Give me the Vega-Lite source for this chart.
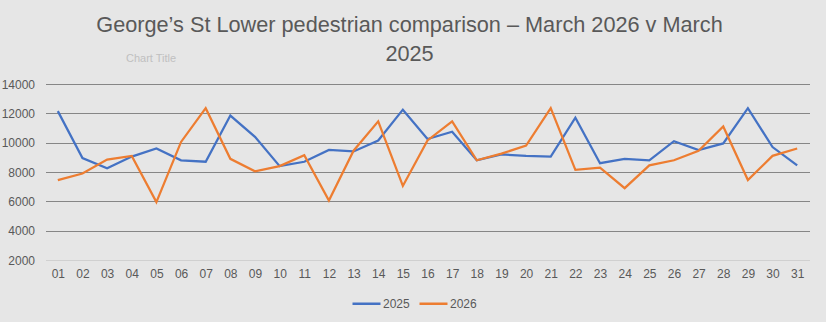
{
  "$schema": "https://vega.github.io/schema/vega-lite/v6.json",
  "width": 764,
  "height": 176,
  "autosize": {"type": "none"},
  "padding": {"left": 45.5, "top": 84, "right": 16.5, "bottom": 62},
  "background": "#e6e6e6",
  "title": {
    "text": ["George’s St Lower pedestrian comparison – March 2026 v March", "2025"],
    "font": "Liberation Sans",
    "fontSize": 21.7,
    "fontWeight": "normal",
    "color": "#595959",
    "lineHeight": 29,
    "anchor": "middle",
    "frame": "group",
    "dx": -18,
    "offset": -14
  },
  "data": {
    "values": [
      {"day": "01", "year": "2025", "count": 12150}, {"day": "01", "year": "2026", "count": 7450},
      {"day": "02", "year": "2025", "count": 8950}, {"day": "02", "year": "2026", "count": 7900},
      {"day": "03", "year": "2025", "count": 8250}, {"day": "03", "year": "2026", "count": 8850},
      {"day": "04", "year": "2025", "count": 9050}, {"day": "04", "year": "2026", "count": 9100},
      {"day": "05", "year": "2025", "count": 9600}, {"day": "05", "year": "2026", "count": 5950},
      {"day": "06", "year": "2025", "count": 8800}, {"day": "06", "year": "2026", "count": 10050},
      {"day": "07", "year": "2025", "count": 8700}, {"day": "07", "year": "2026", "count": 12350},
      {"day": "08", "year": "2025", "count": 11850}, {"day": "08", "year": "2026", "count": 8900},
      {"day": "09", "year": "2025", "count": 10400}, {"day": "09", "year": "2026", "count": 8050},
      {"day": "10", "year": "2025", "count": 8400}, {"day": "10", "year": "2026", "count": 8400},
      {"day": "11", "year": "2025", "count": 8700}, {"day": "11", "year": "2026", "count": 9150},
      {"day": "12", "year": "2025", "count": 9500}, {"day": "12", "year": "2026", "count": 6050},
      {"day": "13", "year": "2025", "count": 9400}, {"day": "13", "year": "2026", "count": 9450},
      {"day": "14", "year": "2025", "count": 10150}, {"day": "14", "year": "2026", "count": 11450},
      {"day": "15", "year": "2025", "count": 12250}, {"day": "15", "year": "2026", "count": 7050},
      {"day": "16", "year": "2025", "count": 10250}, {"day": "16", "year": "2026", "count": 10150},
      {"day": "17", "year": "2025", "count": 10750}, {"day": "17", "year": "2026", "count": 11450},
      {"day": "18", "year": "2025", "count": 8800}, {"day": "18", "year": "2026", "count": 8800},
      {"day": "19", "year": "2025", "count": 9200}, {"day": "19", "year": "2026", "count": 9250},
      {"day": "20", "year": "2025", "count": 9100}, {"day": "20", "year": "2026", "count": 9800},
      {"day": "21", "year": "2025", "count": 9050}, {"day": "21", "year": "2026", "count": 12350},
      {"day": "22", "year": "2025", "count": 11700}, {"day": "22", "year": "2026", "count": 8150},
      {"day": "23", "year": "2025", "count": 8600}, {"day": "23", "year": "2026", "count": 8300},
      {"day": "24", "year": "2025", "count": 8900}, {"day": "24", "year": "2026", "count": 6900},
      {"day": "25", "year": "2025", "count": 8800}, {"day": "25", "year": "2026", "count": 8450},
      {"day": "26", "year": "2025", "count": 10100}, {"day": "26", "year": "2026", "count": 8800},
      {"day": "27", "year": "2025", "count": 9500}, {"day": "27", "year": "2026", "count": 9450},
      {"day": "28", "year": "2025", "count": 9950}, {"day": "28", "year": "2026", "count": 11100},
      {"day": "29", "year": "2025", "count": 12350}, {"day": "29", "year": "2026", "count": 7450},
      {"day": "30", "year": "2025", "count": 9700}, {"day": "30", "year": "2026", "count": 9100},
      {"day": "31", "year": "2025", "count": 8450}, {"day": "31", "year": "2026", "count": 9600}
    ]
  },
  "mark": {"type": "line", "strokeWidth": 2.25},
  "encoding": {
    "x": {
      "field": "day",
      "type": "ordinal",
      "scale": {"type": "point", "padding": 0.5},
      "axis": {
        "title": null,
        "labelAngle": 0,
        "labelFont": "Liberation Sans",
        "labelFontSize": 12,
        "labelColor": "#595959",
        "labelPadding": 8,
        "ticks": false,
        "domain": true,
        "domainColor": "#d0d0d0",
        "grid": false
      }
    },
    "y": {
      "field": "count",
      "type": "quantitative",
      "scale": {"domain": [2000, 14000], "nice": false, "zero": false},
      "axis": {
        "values": [2000, 4000, 6000, 8000, 10000, 12000, 14000],
        "format": "d",
        "title": "Chart Title",
        "titleAngle": 0,
        "titleX": 80,
        "titleY": -26,
        "titleAlign": "left",
        "titleBaseline": "middle",
        "titleFont": "Liberation Sans",
        "titleFontSize": 11,
        "titleFontWeight": "normal",
        "titleColor": "#c0c0c0",
        "labelFont": "Liberation Sans",
        "labelFontSize": 12,
        "labelColor": "#595959",
        "labelPadding": 11,
        "ticks": false,
        "domain": false,
        "grid": true,
        "gridColor": {"condition": {"test": "datum.value === 2000", "value": "transparent"}, "value": "#868686"},
        "gridWidth": 1,
        "gridOpacity": 1
      }
    },
    "color": {
      "field": "year",
      "type": "nominal",
      "scale": {"domain": ["2025", "2026"], "range": ["#4472C4", "#ED7D31"]},
      "legend": {
        "title": null,
        "orient": "none",
        "legendX": 305.5,
        "legendY": 204,
        "direction": "horizontal",
        "symbolType": "stroke",
        "symbolSize": 784,
        "symbolStrokeWidth": 2.5,
        "labelFont": "Liberation Sans",
        "labelFontSize": 12,
        "labelColor": "#595959",
        "labelOffset": 1,
        "columnPadding": 4
      }
    }
  },
  "config": {"view": {"stroke": null}}
}
